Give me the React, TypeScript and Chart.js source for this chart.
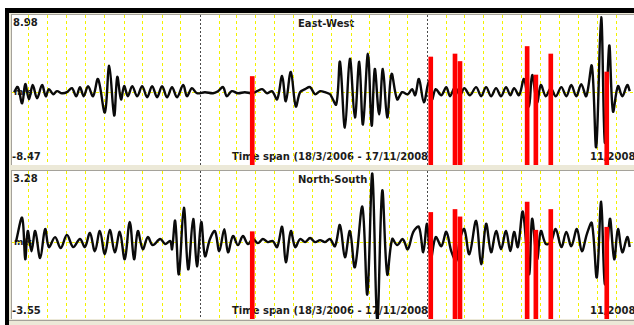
import React, { useEffect, useRef } from "react";
import { Chart, registerables } from "chart.js";

Chart.register(...registerables);

// ---- time axis (days since 18/3/2006) ----
const X_MIN = -13.3;
const X_MAX = 986.8;

// ---- East-West record: [day, amplitude] ----
const ewTime = [
  -10, -4, 3, 8, 14, 20, 27, 35, 41, 46, 53, 59, 67, 75, 83, 90, 96, 102, 109, 117,
  125, 136, 143, 151, 156, 162, 167, 173, 180, 188, 196, 204, 212, 220, 228, 236, 244, 252, 262, 268,
  276, 284, 297, 310, 318, 326, 332, 340, 350, 361, 373, 381, 389, 397, 405, 413, 421, 427, 435, 443,
  450, 458, 466, 474, 482, 490, 498, 508, 514, 522, 530, 538, 545, 551, 559, 565, 570, 577, 583, 590,
  597, 606, 614, 623, 630, 635, 641, 649, 657, 662, 668, 677, 685, 691, 699, 707, 714, 723, 733, 741,
  749, 757, 765, 773, 781, 788, 794, 802, 810, 818, 823, 831, 837, 845, 853, 861, 870, 878, 886, 894,
  902, 910, 919, 926, 934, 940, 947, 953, 961, 968, 976, 980,
];
const ewAmp = [
  0, 0.6, -1.3, 0.94, -0.83, 0.83, -0.71, 0.83, -0.47, 0.35, -0.24, 0.12, -0.12, 0, 0.47, -0.47, 0.59, -0.47, 0.71, -0.47,
  1.53, -2.36, 3.07, -2.71, 1.77, -0.83, 0.71, -0.47, 0.71, -0.47, 0.71, -0.59, 0.71, -0.59, 0.71, -0.59, 0.59, -0.59, 0.83, -0.47,
  0.47, -0.12, 0, -0.12, 0.12, 0.59, -0.47, 0.12, -0.12, 0, -0.12, 0.12, 0.35, -0.12, 0.12, -0.83, 1.89, -1.06, 2.36, -1.65,
  0, 0.35, 0.59, -0.24, 0.12, 0, -0.24, -1.42, 3.54, -4.13, 3.89, -2.95, 3.54, -3.77, 4.48, -3.89, 2.71, -2.59, 2.71, -2.95,
  2.12, -0.83, 0, -0.24, 0.35, -0.35, 1.53, -1.18, 1.3, -0.83, 0.35, -0.35, 0.59, -0.47, 0.59, -0.35, 0.47, -0.35, 0.59, -0.47,
  0.59, -0.47, 0.47, -0.47, 0.59, -0.35, 0.47, -0.35, 1.53, -1.65, 2.0, -1.18, 0.83, -0.47, 0.47, -0.47, 0.59, -0.47, 0.83, -0.47,
  0.94, -0.47, 3.07, -6.37, 8.73, -5.9, 5.42, -2.24, 0.71, -0.47, 0.83, 0.12,
];

// ---- North-South record: [day, amplitude] ----
const nsTime = [
  -7, 3, 8, 12, 18, 24, 32, 40, 46, 56, 65, 75, 85, 96, 104, 112, 120, 128, 136, 144,
  152, 160, 168, 176, 183, 189, 197, 205, 213, 225, 233, 241, 244, 249, 255, 263, 270, 278, 284, 291,
  297, 305, 313, 320, 328, 334, 342, 350, 358, 366, 374, 382, 390, 398, 406, 413, 421, 427, 435, 442,
  450, 458, 466, 474, 482, 490, 498, 506, 514, 522, 530, 538, 550, 558, 566, 574, 582, 590, 598, 606,
  615, 623, 632, 641, 648, 654, 660, 668, 677, 685, 693, 701, 707, 714, 722, 733, 741, 749, 757, 765,
  773, 781, 788, 794, 800, 808, 818, 823, 831, 837, 845, 853, 861, 870, 878, 886, 895, 903, 911, 919,
  927, 934, 940, 948, 955, 961, 968, 976, 980,
];
const nsAmp = [
  0, 1.12, -0.79, 0.51, -0.42, 0.51, -0.74, 0.6, -0.23, 0.23, -0.28, 0.33, -0.23, 0.14, -0.23, 0.42, -0.42, 0.51, -0.56, 0.56,
  -0.47, 0.47, -0.79, 0.93, -0.79, 0.51, -0.33, 0.23, -0.14, 0.14, -0.09, 0.05, -0.33, 0.98, -1.49, 1.58, -1.26, 1.07, -1.12, 0.93,
  -0.65, 0.14, 0.51, -0.42, 0.6, -0.47, 0.28, -0.14, 0.28, -0.09, 0.14, -0.05, 0.14, 0, 0.05, -0.23, 0.7, -0.93, 0.51, -0.23,
  0.14, 0, 0.19, 0, 0.09, 0, 0.14, -0.19, 0.79, -0.7, 0.51, -1.16, 1.63, -2.42, 3.16, -3.67, 2.37, -1.49, 0.14, -0.14,
  0.14, -0.33, 0.47, 0.7, -0.47, 0.84, -0.79, 0.23, -0.19, 0.47, -0.42, -0.88, 0.14, 0.6, -0.56, 0.98, -1.02, 0.84, -0.47, 0.51,
  -0.33, 0.51, -0.42, 0.47, -0.23, 1.4, -1.49, 1.07, -0.79, 0.51, -0.09, 0, 0.6, -0.23, 0.47, -0.19, 0.6, -0.42, 0.37, 0.88,
  -1.63, 1.86, -1.95, 1.07, -0.79, 0.6, -0.47, 0.23, -0.23,
];

// ---- events (red markers): day and magnitude ----
const eventDay = [373, 660, 699, 707, 815, 829, 853, 943];
const eventMagnitude = [5.9, 7.2, 7.4, 6.9, 7.9, 6.0, 7.4, 6.2];

// ---- panel texts / ranges ----
const panelTitles = ["East-West", "North-South"];
const panelMax = [8.98, 3.28];
const panelMin = [-8.47, -3.55];
const spanLabel = "Time span (18/3/2006 - 17/11/2008)";
const endLabel = "11/2008";
const unitLabel = "m/s";

const DAY_MS = 86400000;
const START_UTC = Date.UTC(2006, 2, 18);

function monthStarts() {
  const out: { day: number; jan: boolean }[] = [];
  for (let y = 2006; y <= 2008; y++) {
    for (let m = 0; m < 12; m++) {
      const d = (Date.UTC(y, m, 1) - START_UTC) / DAY_MS;
      if (d > X_MIN && d < X_MAX) out.push({ day: d, jan: m === 0 });
    }
  }
  return out;
}

const FONT = '"DejaVu Sans", Verdana, sans-serif';

function Label({ left, cy, text, size = 10 }: { left: number; cy: number; text: string; size?: number }) {
  return (
    <div
      style={{
        position: "absolute",
        left,
        top: cy - 6,
        height: 12,
        lineHeight: "12px",
        fontFamily: FONT,
        fontWeight: "bold",
        fontSize: size,
        color: "#1c1c1c",
        whiteSpace: "nowrap",
      }}
    >
      {text}
    </div>
  );
}

function Panel({
  top,
  height,
  index,
  times,
  amps,
}: {
  top: number;
  height: number;
  index: number;
  times: number[];
  amps: number[];
}) {
  const ref = useRef<HTMLCanvasElement>(null);
  const yMin = panelMin[index];
  const yMax = panelMax[index];

  useEffect(() => {
    const months = monthStarts();
    const chart = new Chart(ref.current as HTMLCanvasElement, {
      type: "line",
      data: {
        datasets: [
          {
            type: "bar",
            data: eventDay.map((d, i) => ({ x: d, y: eventMagnitude[i] })),
            backgroundColor: "#ff0000",
            borderWidth: 0,
            barThickness: 4,
            xAxisID: "x",
            yAxisID: "y2",
            order: 0,
          } as any,
          {
            type: "line",
            data: times.map((t, i) => ({ x: t, y: amps[i] })),
            borderColor: "#0a0a0a",
            borderWidth: 2.4,
            pointRadius: 0,
            tension: 0.35,
            fill: false,
            xAxisID: "x",
            yAxisID: "y",
            order: 1,
          },
        ],
      },
      options: {
        animation: false,
        responsive: false,
        maintainAspectRatio: false,
        devicePixelRatio: 1,
        events: [],
        layout: { padding: 0 },
        plugins: { legend: { display: false }, tooltip: { enabled: false }, title: { display: false } },
        scales: {
          x: {
            type: "linear",
            min: X_MIN,
            max: X_MAX,
            offset: false,
            afterBuildTicks: (s: any) => {
              s.ticks = months.filter((m) => !m.jan).map((m) => ({ value: m.day }));
            },
            ticks: { display: false },
            grid: { color: "#f2f200", lineWidth: 1, drawTicks: false, offset: false },
            border: { display: false, dash: [3, 3] },
          },
          x2: {
            type: "linear",
            min: X_MIN,
            max: X_MAX,
            offset: false,
            afterBuildTicks: (s: any) => {
              s.ticks = months.filter((m) => m.jan).map((m) => ({ value: m.day }));
            },
            ticks: { display: false },
            grid: { color: "#4a4a4a", lineWidth: 1, drawTicks: false, offset: false },
            border: { display: false, dash: [2, 2] },
          },
          y: {
            type: "linear",
            min: yMin,
            max: yMax,
            afterBuildTicks: (s: any) => {
              s.ticks = [{ value: 0 }];
            },
            ticks: { display: false },
            grid: { color: "#f2f200", lineWidth: 1, drawTicks: false },
            border: { display: false, dash: [3, 3] },
          },
          y2: { type: "linear", display: false, min: 0, max: 10 },
        },
      } as any,
    });
    return () => chart.destroy();
  }, []);

  const zeroY = top + (height * yMax) / (yMax - yMin);
  return (
    <>
      <div style={{ position: "absolute", left: 11, top: top - 1, width: 623, height: 1, background: "#a5a29a" }} />
      <div style={{ position: "absolute", left: 11, top: top - 1, width: 1, height: height + 1, background: "#a5a29a" }} />
      <div style={{ position: "absolute", left: 12, top, width: 622, height, background: "#ffffff" }} />
      <Label left={13} cy={top + 8} text={yMax.toFixed(2)} />
      <Label left={12} cy={top + height - 8} text={yMin.toFixed(2)} />
      <Label left={298} cy={top + 8.5} text={panelTitles[index]} />
      <Label left={232} cy={top + height - 8.5} text={spanLabel} />
      <Label left={590} cy={top + height - 8} text={endLabel} />
      <Label left={14} cy={zeroY} text={unitLabel} size={9} />
      <canvas
        ref={ref}
        width={622}
        height={height}
        style={{ position: "absolute", left: 12, top, width: 622, height }}
      />
    </>
  );
}

export default function App() {
  useEffect(() => {
    document.body.style.margin = "0";
  }, []);
  return (
    <div
      style={{
        position: "fixed",
        left: 0,
        top: 0,
        width: 634,
        height: 325,
        overflow: "hidden",
        background: "#ffffff",
      }}
    >
      <div style={{ position: "absolute", left: 5, top: 8, width: 629, height: 317, background: "#000000" }} />
      <div style={{ position: "absolute", left: 9, top: 13, width: 625, height: 312, background: "#ece9d8" }} />
      <Panel top={15} height={150} index={0} times={ewTime} amps={ewAmp} />
      <Panel top={171} height={148} index={1} times={nsTime} amps={nsAmp} />
      <div style={{ position: "absolute", left: 9, top: 320, width: 625, height: 1, background: "#a5a29a" }} />
    </div>
  );
}
